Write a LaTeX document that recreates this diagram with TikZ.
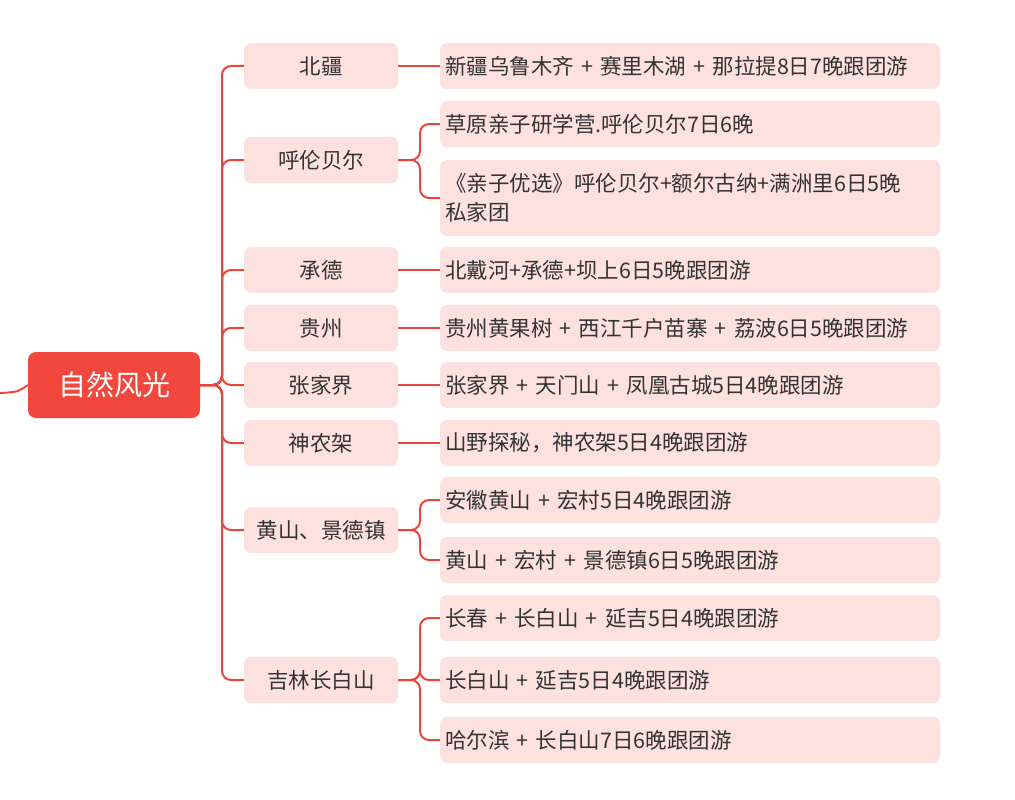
\documentclass[tikz,border=0pt]{standalone}
\usepackage{fontspec}
\setmainfont{Noto Sans CJK SC}
\definecolor{lred}{HTML}{E8453C}
\definecolor{rootred}{HTML}{F1473D}
\definecolor{pinkfill}{HTML}{FDE1DF}
\definecolor{txt}{HTML}{333333}
\begin{document}
\begin{tikzpicture}[x=1pt,y=-1pt,
  midbox/.style={fill=pinkfill,rounded corners=7pt,minimum width=154pt,minimum height=46pt,text=txt,font=\fontsize{21.5}{26}\selectfont,inner sep=0pt},
  leafbox/.style={fill=pinkfill,rounded corners=7pt,minimum width=500pt,text=txt,font=\fontsize{21.5}{29}\selectfont,inner sep=0pt,align=left,text width=490pt},
  conn/.style={draw=lred,line width=2pt,rounded corners=9pt}]
\useasboundingbox (0,0) rectangle (1015,800);
\node[fill=rootred,rounded corners=8pt,minimum width=172pt,minimum height=66pt,text=white,font=\fontsize{28}{32}\selectfont] (root) at (114,385) {自然风光};
\coordinate (lin) at (0,393);
\draw[conn] (lin) .. controls (18,392) .. (root.west);
% mid nodes
\node[midbox] (m1) at (321,66) {北疆};
\node[midbox] (m2) at (321,160) {呼伦贝尔};
\node[midbox] (m3) at (321,270) {承德};
\node[midbox] (m4) at (321,328) {贵州};
\node[midbox] (m5) at (321,385) {张家界};
\node[midbox] (m6) at (321,443) {神农架};
\node[midbox] (m7) at (321,530) {黄山、景德镇};
\node[midbox] (m8) at (321,680) {吉林长白山};
\coordinate (tr) at (222,385);
\foreach \m in {m1,m2,m3,m4,m5,m6,m7,m8} \draw[conn] (root.east) -- (tr) |- (\m.west);
% leaves
\node[leafbox,minimum height=46pt] (a1) at (690,66) {新疆乌鲁木齐 + 赛里木湖 + 那拉提8日7晚跟团游};
\node[leafbox,minimum height=46pt] (b1) at (690,124) {草原亲子研学营.呼伦贝尔7日6晚};
\node[leafbox,minimum height=76pt] (b2) at (690,198) {《亲子优选》呼伦贝尔+额尔古纳+满洲里6日5晚\\私家团};
\node[leafbox,minimum height=46pt] (c1) at (690,270) {北戴河+承德+坝上6日5晚跟团游};
\node[leafbox,minimum height=46pt] (d1) at (690,328) {贵州黄果树 + 西江千户苗寨 + 荔波6日5晚跟团游};
\node[leafbox,minimum height=46pt] (e1) at (690,385) {张家界 + 天门山 + 凤凰古城5日4晚跟团游};
\node[leafbox,minimum height=46pt] (f1) at (690,443) {山野探秘，神农架5日4晚跟团游};
\node[leafbox,minimum height=46pt] (g1) at (690,500) {安徽黄山 + 宏村5日4晚跟团游};
\node[leafbox,minimum height=46pt] (g2) at (690,560) {黄山 + 宏村 + 景德镇6日5晚跟团游};
\node[leafbox,minimum height=46pt] (h1) at (690,618) {长春 + 长白山 + 延吉5日4晚跟团游};
\node[leafbox,minimum height=46pt] (h2) at (690,680) {长白山 + 延吉5日4晚跟团游};
\node[leafbox,minimum height=46pt] (h3) at (690,740) {哈尔滨 + 长白山7日6晚跟团游};
\draw[conn] (m1.east) -- (a1.west);
\draw[conn] (m3.east) -- (c1.west);
\draw[conn] (m4.east) -- (d1.west);
\draw[conn] (m5.east) -- (e1.west);
\draw[conn] (m6.east) -- (f1.west);
\coordinate (t2) at (420,160);
\foreach \l in {b1,b2} \draw[conn] (m2.east) -- (t2) |- (\l.west);
\coordinate (t7) at (420,530);
\foreach \l in {g1,g2} \draw[conn] (m7.east) -- (t7) |- (\l.west);
\coordinate (t8) at (420,680);
\foreach \l in {h1,h2,h3} \draw[conn] (m8.east) -- (t8) |- (\l.west);
\end{tikzpicture}
\end{document}
